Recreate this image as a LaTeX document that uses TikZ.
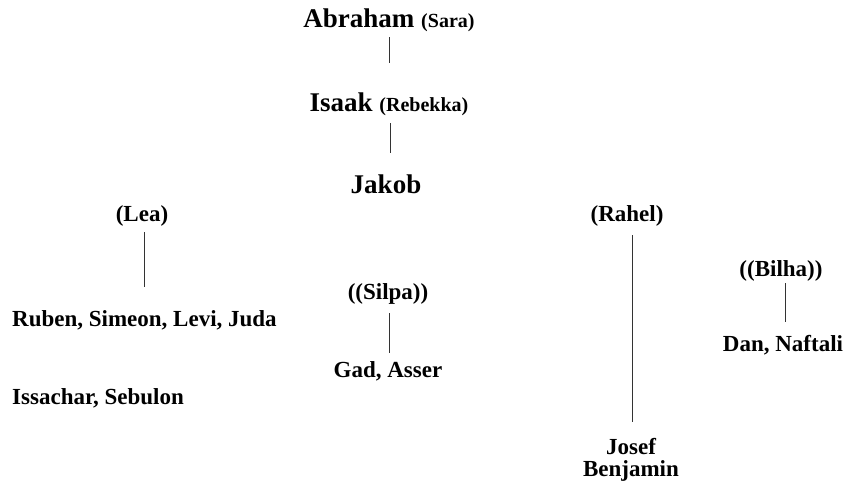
\documentclass[tikz,border=0pt]{standalone}
\usepackage{fontspec}
\setmainfont{Liberation Serif}
\usetikzlibrary{calc}
\begin{document}
\begin{tikzpicture}[x=1pt,y=-1pt,
  big/.style={font=\fontsize{27}{30}\selectfont\bfseries, inner sep=0pt, anchor=base},
  small/.style={font=\fontsize{23}{22}\selectfont\bfseries, inner sep=0pt, anchor=base},
  conn/.style={line width=0.8pt, black!80}]
\useasboundingbox (0,0) rectangle (843,485);
\node[big] (abr) at (389,27) {Abraham {\fontsize{20}{24}\selectfont(Sara)}};
\node[big] (isa) at (389,111) {Isaak {\fontsize{20}{24}\selectfont(Rebekka)}};
\node[big] (jak) at (386,193) {Jakob};
\node[small] (lea) at (142,221) {(Lea)};
\node[small, anchor=base west] (rub) at (12,326) {Ruben, Simeon, Levi, Juda};
\node[small, anchor=base west] (iss) at (12,404) {Issachar, Sebulon};
\node[small] (silpa) at (388,299) {((Silpa))};
\node[small] (gad) at (388,377) {Gad, Asser};
\node[small] (rahel) at (627,221) {(Rahel)};
\node[small, align=center, anchor=north] (jos) at (631,438) {Josef\\Benjamin};
\node[small] (bil) at (781,276) {((Bilha))};
\node[small] (dan) at (783,351) {Dan, Naftali};
\draw[conn] ($(abr.base)+(0,10)$) -- ($(isa.base)+(0,-48)$);
\draw[conn] ($(isa.base)+(1,12)$) -- ($(jak.base)+(4,-40)$);
\draw[conn] ($(lea.base)+(2,11)$) -- ($(lea.base |- rub.base)+(2,-39)$);
\draw[conn] ($(silpa.base)+(1,14)$) -- ($(gad.base)+(1,-24)$);
\draw[conn] ($(rahel.base)+(5,14)$) -- ($(jos.north)+(1,-16)$);
\draw[conn] ($(bil.base)+(4,7)$) -- ($(dan.base)+(2,-29)$);
\end{tikzpicture}
\end{document}
